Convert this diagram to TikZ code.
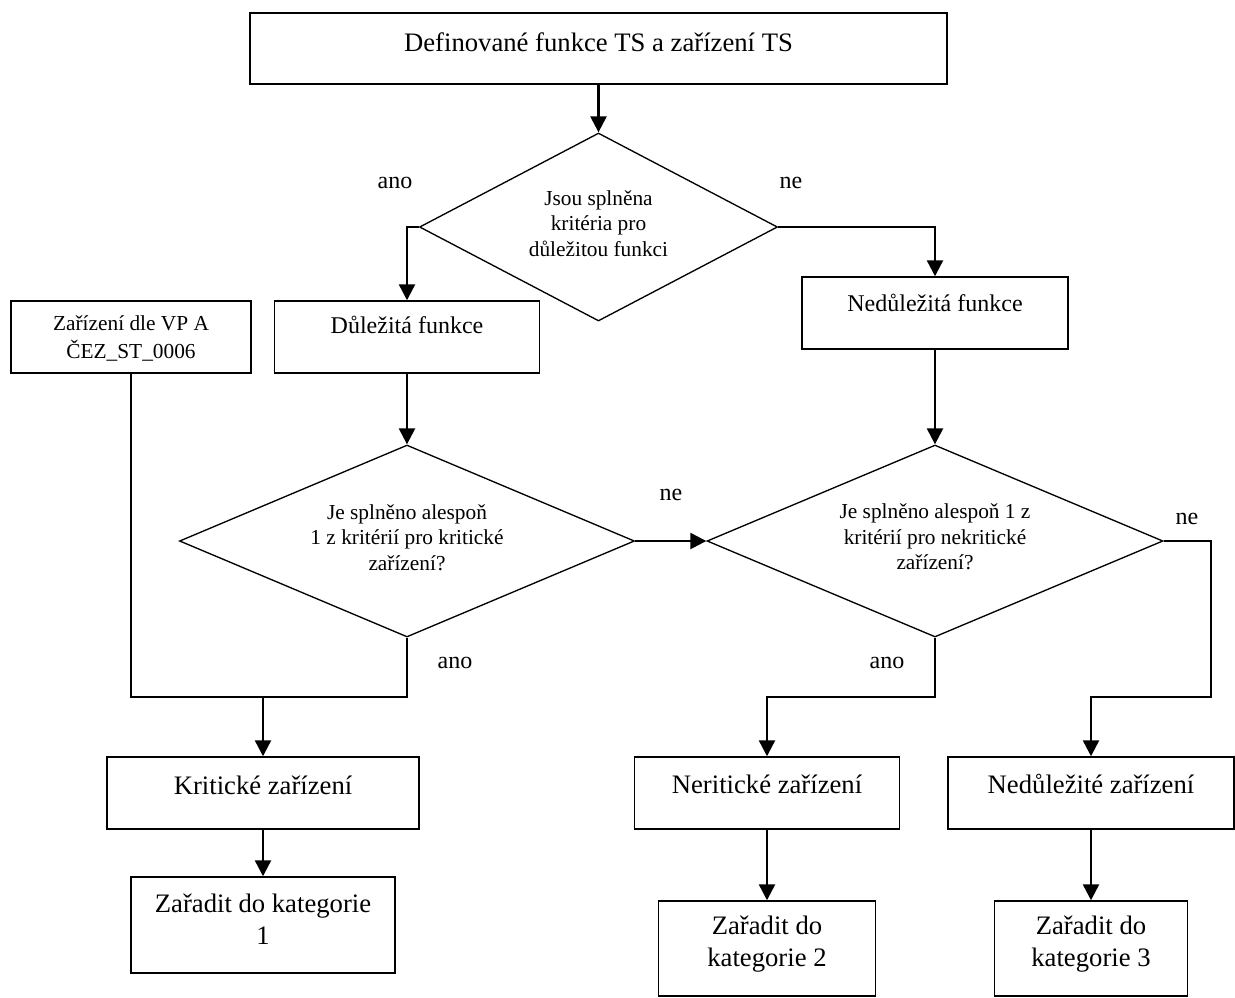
\documentclass[tikz,border=0pt]{standalone}
\usepackage{fontspec}
\setmainfont{Liberation Serif}
\usetikzlibrary{arrows.meta,shapes.geometric}
\begin{document}
\begin{tikzpicture}[x=0.75pt,y=-0.75pt,
  box/.style={draw,line width=1.1pt,rectangle,inner sep=0pt},
  sz/.style 2 args={minimum width=#1*0.75pt,minimum height=#2*0.75pt},
  dia/.style={draw,line width=1pt,diamond,inner sep=0pt},
  conn/.style={line width=1.8pt},
  arr/.style={conn,-{Triangle[length=12pt,width=12pt]}},
  big/.style={font=\fontsize{20}{24}\selectfont,align=center,inner sep=0pt},
  mid/.style={font=\fontsize{18}{22}\selectfont,align=center,inner sep=0pt},
  dtext/.style={font=\fontsize{16}{19}\selectfont,align=center,inner sep=0pt},
  ztext/.style={font=\fontsize{16}{21}\selectfont,align=center,inner sep=0pt},
  lab/.style={font=\fontsize{18}{22}\selectfont,inner sep=0pt}]

\useasboundingbox (0,0) rectangle (1235,997);

% boxes
\node[box,sz={697}{71}] (top) at (598.5,48.5) {};
\node[box,sz={240}{72}] (zar) at (131,337) {};
\node[box,sz={265}{72}] (dul) at (407,337) {};
\node[box,sz={266}{72}] (nedul) at (935,313) {};
\node[box,sz={312}{72}] (krit) at (263,793) {};
\node[box,sz={264}{96}] (zar1) at (263,925) {};
\node[box,sz={265}{72}] (nerit) at (767,793) {};
\node[box,sz={286}{72}] (nedz) at (1091,793) {};
\node[box,sz={217}{95}] (zar2) at (767,948.5) {};
\node[box,sz={193}{95}] (zar3) at (1091,948.5) {};

% diamonds
\node[dia,sz={358}{188}] (d1) at (598.5,227) {};
\node[dia,sz={455}{192}] (d2) at (407,541) {};
\node[dia,sz={456}{192}] (d3) at (935,541) {};

% texts
\node[big] (topt) at (598.5,42) {Definované funkce TS a zařízení TS};
\node[ztext] (zart) at (131,338) {Zařízení dle VP A\\ČEZ\_ST\_0006};
\node[mid] (dult) at (407,325) {Důležitá funkce};
\node[mid] (nedult) at (935,303) {Nedůležitá funkce};
\node[big] (kritt) at (263,785) {Kritické zařízení};
\node[big] (neritt) at (767,784) {Neritické zařízení};
\node[big] (nedzt) at (1091,784) {Nedůležité zařízení};
\node[big] (zar1t) at (263,919) {Zařadit do kategorie\\1};
\node[big] (zar2t) at (767,944) {Zařadit do\\kategorie 2};
\node[big] (zar3t) at (1091,944) {Zařadit do\\kategorie 3};
\node[dtext] (d1t) at (598.5,223.5) {Jsou splněna\\kritéria pro\\důležitou funkci};
\node[dtext] (d2t) at (407,537.5) {Je splněno alespoň\\1 z kritérií pro kritické\\zařízení?};
\node[dtext] (d3t) at (935,537) {Je splněno alespoň 1 z\\kritérií pro nekritické\\zařízení?};

% labels
\node[lab] (l1) at (395,183) {ano};
\node[lab] (l2) at (791,183) {ne};
\node[lab] (l3) at (671,495) {ne};
\node[lab] (l4) at (455,663) {ano};
\node[lab] (l5) at (887,663) {ano};
\node[lab] (l6) at (1187,519) {ne};

% junction coordinates
\coordinate (j1) at (263,697);
\coordinate (j2) at (767,697);
\coordinate (c3) at (1211,541);
\coordinate (j3) at (1091,697);

% connectors
\draw[arr] (top.south) -- (d1.north);
\draw[arr] (d1.west) -- (d1.west -| dul.north) -- (dul.north);
\draw[arr] (d1.east) -- (d1.east -| nedul.north) -- (nedul.north);
\draw[arr] (dul.south) -- (d2.north);
\draw[arr] (nedul.south) -- (d3.north);
\draw[arr] (d2.east) -- (d3.west);
\draw[conn] (zar.south) |- (j1);
\draw[conn] (d2.south) |- (j1);
\draw[arr] (j1) -- (krit.north);
\draw[arr] (krit.south) -- (zar1.north);
\draw[arr] (d3.south) |- (j2) -- (nerit.north);
\draw[arr] (d3.east) -- (c3) |- (j3) -- (nedz.north);
\draw[arr] (nerit.south) -- (zar2.north);
\draw[arr] (nedz.south) -- (zar3.north);
\end{tikzpicture}
\end{document}
